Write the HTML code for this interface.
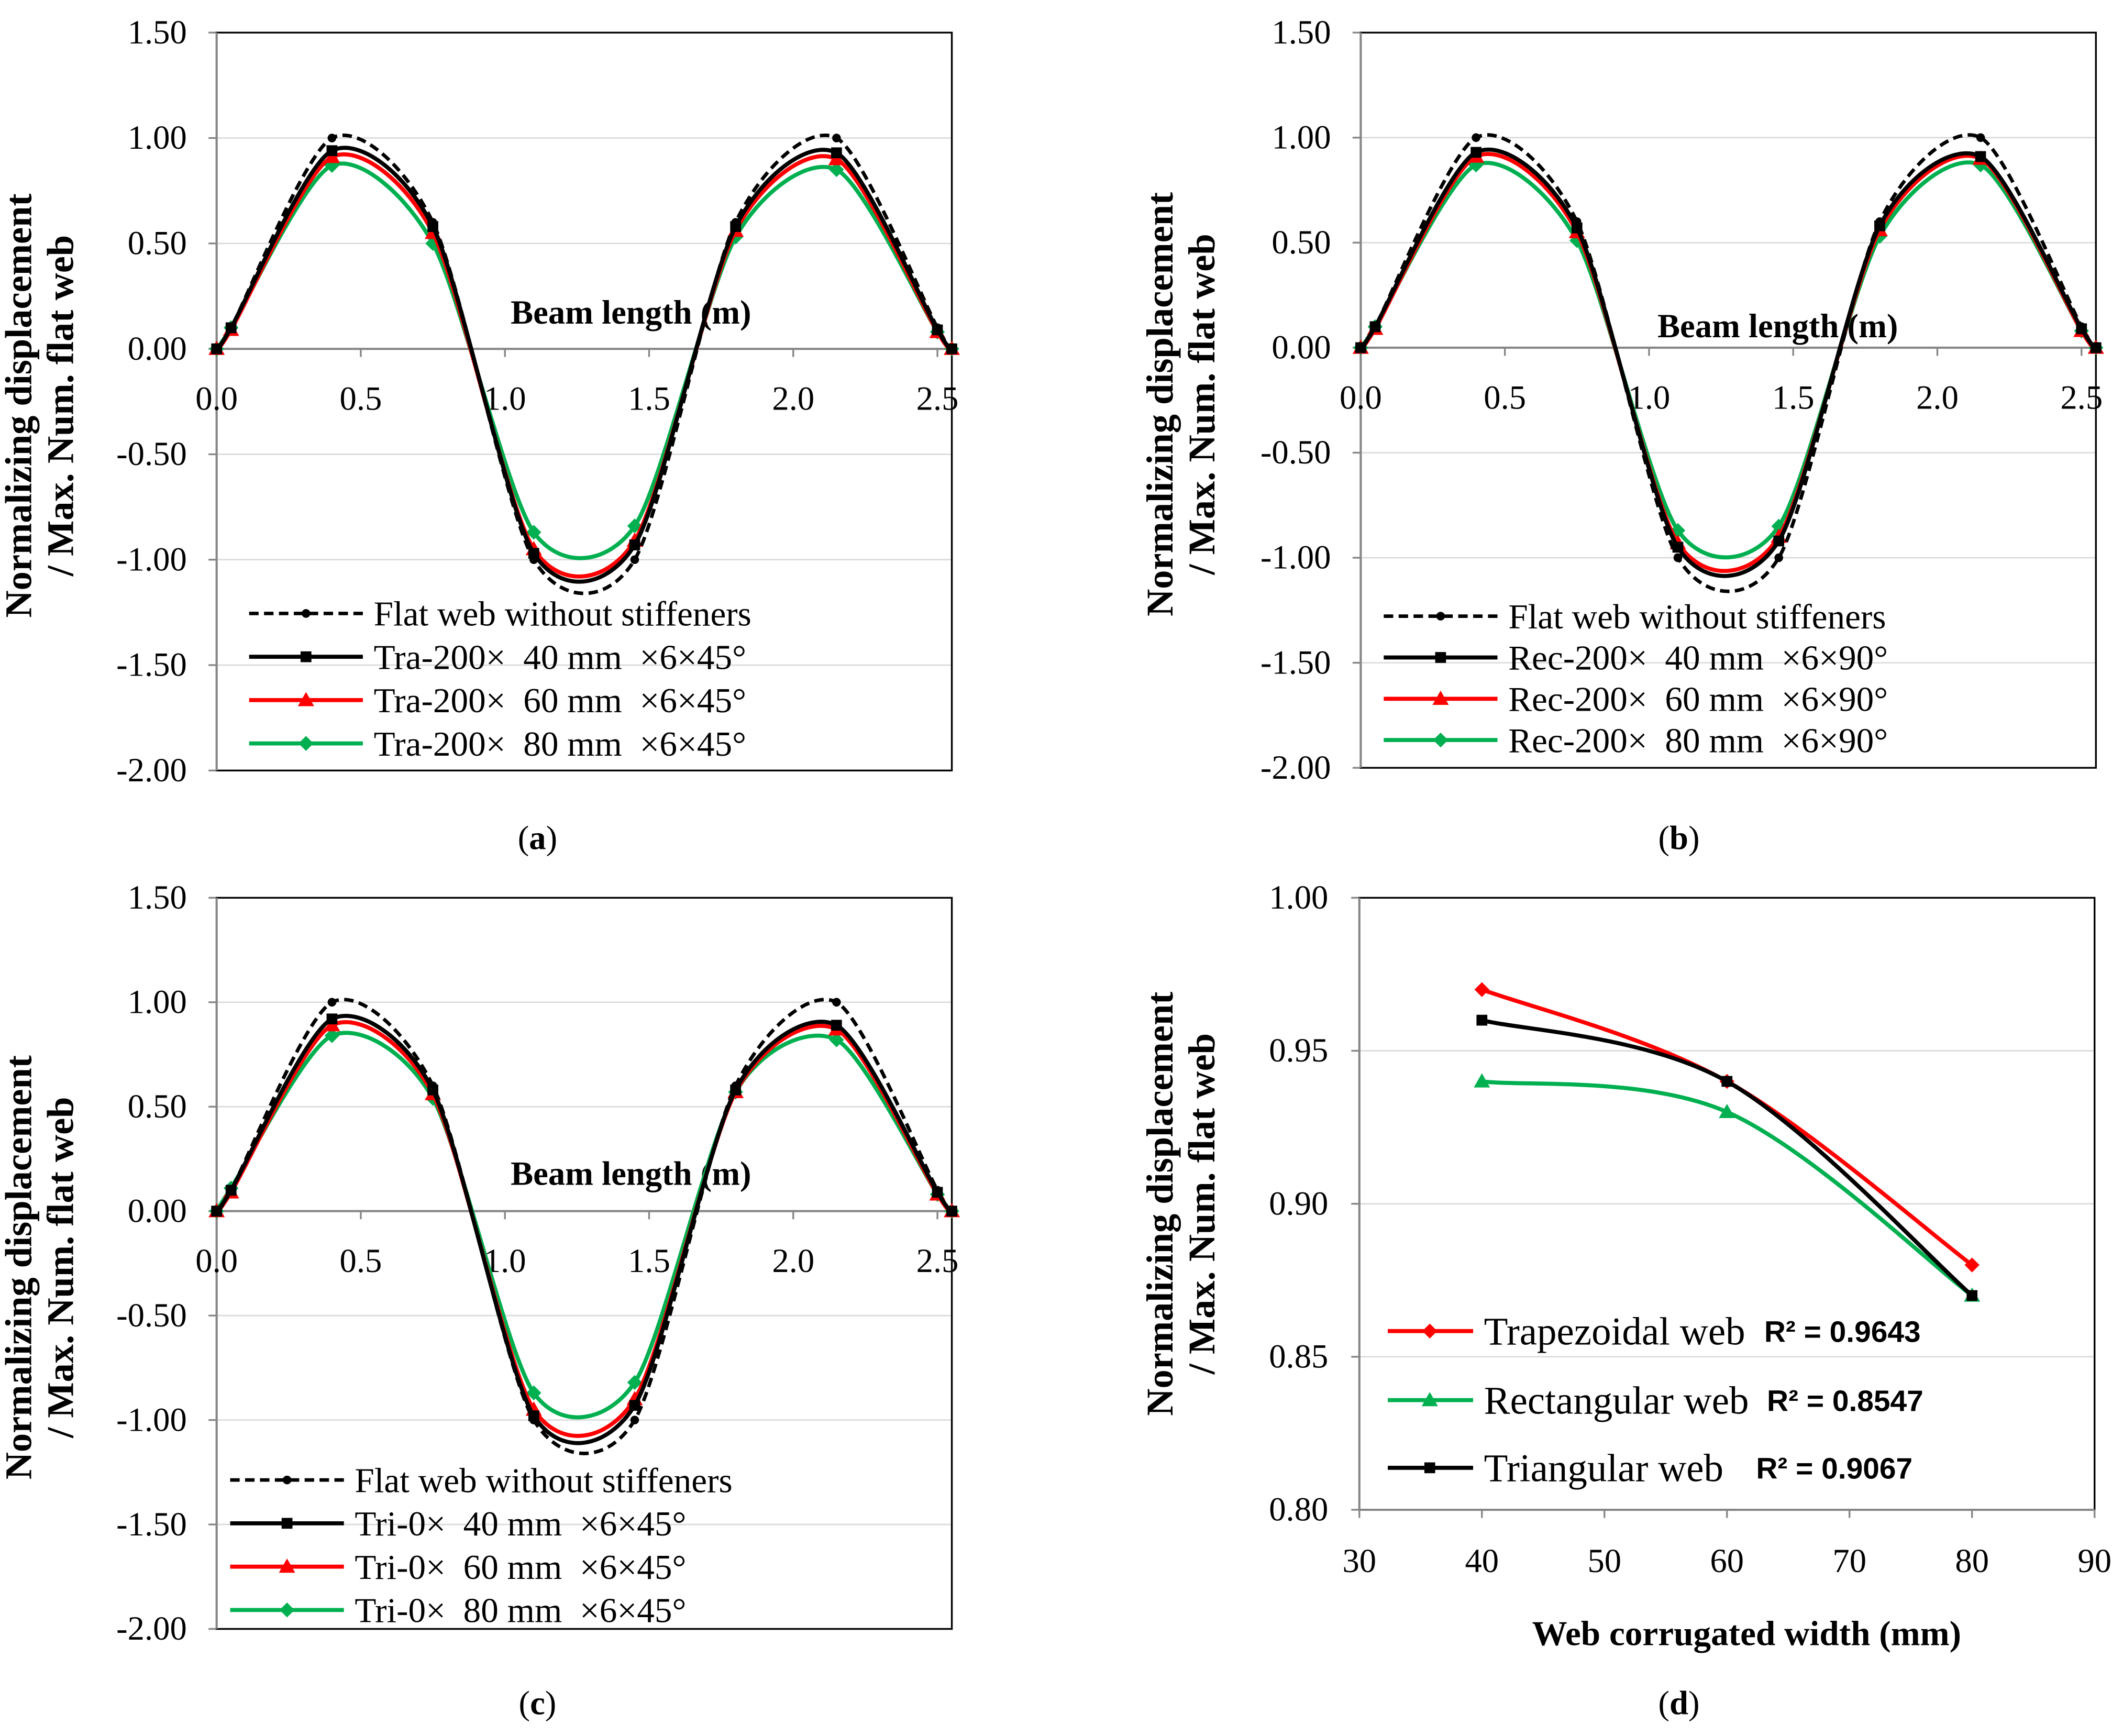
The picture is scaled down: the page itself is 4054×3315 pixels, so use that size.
<!DOCTYPE html>
<html><head><meta charset="utf-8"><style>
html,body{margin:0;padding:0;background:#fff}
svg{display:block}
text{font-family:"Liberation Serif",serif;white-space:pre}
</style></head><body>
<svg id="fig" width="4054" height="3315" viewBox="0 0 1568 1282" xmlns="http://www.w3.org/2000/svg" xml:space="preserve"></svg>
<script>
// ---- data ----
const beamX = [0, 0.05, 0.4, 0.75, 1.1, 1.45, 1.8, 2.15, 2.5, 2.55];
const flatA = [0, 0.1, 1.0, 0.6, -1.0, -1.0, 0.6, 1.0, 0.1, 0];
const a40 = [0, 0.1, 0.94, 0.58, -0.97, -0.93, 0.58, 0.93, 0.09, 0];
const a60 = [0, 0.09, 0.91, 0.55, -0.95, -0.91, 0.56, 0.90, 0.08, 0];
const a80 = [0, 0.1, 0.87, 0.5, -0.87, -0.84, 0.53, 0.85, 0.08, 0];
const b40 = [0, 0.1, 0.93, 0.57, -0.95, -0.92, 0.58, 0.91, 0.09, 0];
const b60 = [0, 0.09, 0.91, 0.55, -0.93, -0.90, 0.56, 0.90, 0.08, 0];
const b80 = [0, 0.1, 0.87, 0.51, -0.87, -0.85, 0.53, 0.87, 0.08, 0];
const c40 = [0, 0.1, 0.92, 0.58, -0.98, -0.93, 0.58, 0.89, 0.09, 0];
const c60 = [0, 0.09, 0.89, 0.56, -0.95, -0.90, 0.57, 0.87, 0.08, 0];
const c80 = [0, 0.11, 0.84, 0.54, -0.87, -0.82, 0.57, 0.82, 0.08, 0];
const yTicksBeam = [1.5, 1.0, 0.5, 0, -0.5, -1.0, -1.5, -2.0];
const xTicksBeam = [0, 0.5, 1.0, 1.5, 2.0, 2.5];
const widthX = [40, 60, 80];
const trapY = [0.97, 0.94, 0.88];
const rectY = [0.94, 0.93, 0.87];
const triY = [0.96, 0.94, 0.87];
const xTicksD = [30, 40, 50, 60, 70, 80, 90];
const yTicksD = [1.0, 0.95, 0.90, 0.85, 0.80];

const NS = "http://www.w3.org/2000/svg";
const svg = document.getElementById('fig');
function el(tag, attrs, parent, txt) {
  const e = document.createElementNS(NS, tag);
  for (const k in attrs) e.setAttribute(k, attrs[k]);
  if (txt !== undefined) e.textContent = txt;
  (parent || svg).appendChild(e);
  return e;
}
function smoothPath(pts, k) {
  let d = `M${pts[0][0]},${pts[0][1]}`;
  for (let i = 0; i < pts.length - 1; i++) {
    const p0 = pts[Math.max(0, i - 1)], p1 = pts[i], p2 = pts[i + 1], p3 = pts[Math.min(pts.length - 1, i + 2)];
    const c1 = [p1[0] + (p2[0] - p0[0]) / k, p1[1] + (p2[1] - p0[1]) / k];
    const c2 = [p2[0] - (p3[0] - p1[0]) / k, p2[1] - (p3[1] - p1[1]) / k];
    d += ` C${c1[0]},${c1[1]} ${c2[0]},${c2[1]} ${p2[0]},${p2[1]}`;
  }
  return d;
}
function marker(g, type, x, y, color) {
  let m;
  if (type === 'circle') m = el('circle', {cx: x, cy: y, r: 3.2, fill: color}, g);
  else if (type === 'square') m = el('rect', {x: x - 4, y: y - 4, width: 8, height: 8, fill: color}, g);
  else if (type === 'tri') m = el('polygon', {points: `${x},${y - 6} ${x - 6},${y + 4.5} ${x + 6},${y + 4.5}`, fill: color}, g);
  else m = el('polygon', {points: `${x},${y - 5.5} ${x + 5.5},${y} ${x},${y + 5.5} ${x - 5.5},${y}`, fill: color}, g);
  
  
}
function series(g, pts, color, dash, mtype, name, k) {
  const p = el('path', {d: smoothPath(pts, k), fill: 'none', stroke: color, 'stroke-width': dash ? 2.6 : 3, 'stroke-dasharray': dash ? '7,4' : 'none'}, g);
  
  
  pts.forEach(q => marker(g, mtype, q[0], q[1], color));
}
function yTitle(g, cx, cy) {
  const t1 = el('text', {x: 0, y: 0, transform: `translate(${cx - 14},${cy}) rotate(-90)`, 'text-anchor': 'middle', 'font-size': 28, 'font-weight': 'bold'}, g, 'Normalizing displacement');
  
  
  const t2 = el('text', {x: 0, y: 0, transform: `translate(${cx + 17},${cy}) rotate(-90)`, 'text-anchor': 'middle', 'font-size': 28, 'font-weight': 'bold'}, g, '/ Max. Num. flat web');
  
  
}

function beamPanel(cfg) {
  const g = el('g', {});
  
  
  const L = cfg.L, R = cfg.R, T = cfg.T, B = cfg.B;
  const sx = v => L + (v - 0) / 2.55 * (R - L);
  const sy = v => T + (1.5 - v) / 3.5 * (B - T);
  yTicksBeam.forEach(v => {
    if (v !== 1.5 && v !== -2.0 && v !== 0) el('line', {x1: L, x2: R, y1: sy(v), y2: sy(v), stroke: '#d9d9d9', 'stroke-width': 1}, g);
    el('line', {x1: L - 6, x2: L, y1: sy(v), y2: sy(v), stroke: '#868686', 'stroke-width': 1.3}, g);
    const t = el('text', {x: L - 22, y: sy(v) + 8, 'text-anchor': 'end', 'font-size': 25}, g, v.toFixed(2));
    
    
  });
  el('rect', {x: L, y: T, width: R - L, height: B - T, fill: 'none', stroke: '#000', 'stroke-width': 1.3}, g);
  el('line', {x1: L, x2: L, y1: T, y2: B, stroke: '#868686', 'stroke-width': 1.6}, g);
  el('line', {x1: L, x2: R, y1: sy(0), y2: sy(0), stroke: '#868686', 'stroke-width': 1.6}, g);
  xTicksBeam.forEach(v => {
    el('line', {x1: sx(v), x2: sx(v), y1: sy(0), y2: sy(0) + 6, stroke: '#868686', 'stroke-width': 1.3}, g);
    const t = el('text', {x: sx(v), y: sy(0) + 45, 'text-anchor': 'middle', 'font-size': 25}, g, v.toFixed(1));
    
    
  });
  const xt = el('text', {x: cfg.xtx, y: cfg.xty, 'text-anchor': 'middle', 'font-size': 25, 'font-weight': 'bold'}, g, 'Beam length (m)');
  
  
  yTitle(g, cfg.ytx, (T + B) / 2 + 3);
  const mk = arr => beamX.map((x, i) => [sx(x), sy(arr[i])]);
  series(g, mk(cfg.s80), '#00b050', false, 'diamond', 'series-80mm', 7.5);
  series(g, mk(cfg.s60), '#ff0000', false, 'tri', 'series-60mm', 7.5);
  series(g, mk(cfg.s40), '#000000', false, 'square', 'series-40mm', 7.5);
  series(g, mk(flatA), '#000000', true, 'circle', 'series-flat-web', 7.5);
  const lg = el('g', {}, g);
  
  
  const items = [['Flat web without stiffeners', '#000', true, 'circle'], [cfg.lbl + '  40 mm  ×6×' + cfg.ang, '#000', false, 'square'], [cfg.lbl + '  60 mm  ×6×' + cfg.ang, '#ff0000', false, 'tri'], [cfg.lbl + '  80 mm  ×6×' + cfg.ang, '#00b050', false, 'diamond']];
  items.forEach((it, i) => {
    const y = cfg.ly + i * cfg.ld;
    el('line', {x1: cfg.lx, x2: cfg.lx + 84, y1: y, y2: y, stroke: it[1], 'stroke-width': it[2] ? 2.6 : 3, 'stroke-dasharray': it[2] ? '7,4' : 'none'}, lg);
    marker(lg, it[3], cfg.lx + 42, y, it[1]);
    const t = el('text', {x: cfg.lx + 92, y: y + 9, 'font-size': 26}, lg, it[0]);
    
    
  });
  const cap = el('text', {x: cfg.capx, y: cfg.capy, 'text-anchor': 'middle', 'font-size': 25}, g);
  
  
  el('tspan', {}, cap, '(');
  el('tspan', {'font-weight': 'bold'}, cap, cfg.id);
  el('tspan', {}, cap, ')');
}

beamPanel({id: 'a', L: 160, R: 703, T: 24, B: 569, s40: a40, s60: a60, s80: a80, lbl: 'Tra-200×', ang: '45°', lx: 184, ly: 453, ld: 32, xtx: 466, xty: 239, ytx: 37, capx: 397, capy: 627});
beamPanel({id: 'b', L: 1005, R: 1548, T: 24, B: 567, s40: b40, s60: b60, s80: b80, lbl: 'Rec-200×', ang: '90°', lx: 1022, ly: 455, ld: 30.5, xtx: 1313, xty: 249, ytx: 880, capx: 1240, capy: 627});
beamPanel({id: 'c', L: 160, R: 703, T: 663, B: 1203, s40: c40, s60: c60, s80: c80, lbl: 'Tri-0×', ang: '45°', lx: 170, ly: 1093, ld: 32, xtx: 466, xty: 875, ytx: 37, capx: 397, capy: 1266});

// panel d
(function () {
  const g = el('g', {});
  
  
  const L = 1004, R = 1547, T = 663, B = 1115;
  const sx = v => L + (v - 30) / 60 * (R - L);
  const sy = v => T + (1.0 - v) / 0.2 * (B - T);
  yTicksD.forEach(v => {
    if (v !== 1.0 && v !== 0.8) el('line', {x1: L, x2: R, y1: sy(v), y2: sy(v), stroke: '#d9d9d9', 'stroke-width': 1}, g);
    el('line', {x1: L - 6, x2: L, y1: sy(v), y2: sy(v), stroke: '#868686', 'stroke-width': 1.3}, g);
    const t = el('text', {x: L - 23, y: sy(v) + 8, 'text-anchor': 'end', 'font-size': 25}, g, v.toFixed(2));
    
    
  });
  el('rect', {x: L, y: T, width: R - L, height: B - T, fill: 'none', stroke: '#000', 'stroke-width': 1.3}, g);
  el('line', {x1: L, x2: L, y1: T, y2: B, stroke: '#868686', 'stroke-width': 1.6}, g);
  el('line', {x1: L, x2: R, y1: B, y2: B, stroke: '#868686', 'stroke-width': 1.6}, g);
  xTicksD.forEach(v => {
    el('line', {x1: sx(v), x2: sx(v), y1: B, y2: B + 6, stroke: '#868686', 'stroke-width': 1.3}, g);
    const t = el('text', {x: sx(v), y: B + 46, 'text-anchor': 'middle', 'font-size': 25}, g, String(v));
    
    
  });
  const xt = el('text', {x: 1290, y: 1215, 'text-anchor': 'middle', 'font-size': 26, 'font-weight': 'bold'}, g, 'Web corrugated width (mm)');
  
  
  yTitle(g, 880, 889);
  const mk = arr => widthX.map((x, i) => [sx(x), sy(arr[i])]);
  series(g, mk(rectY), '#00b050', false, 'tri', 'series-rectangular', 6);
  series(g, mk(trapY), '#ff0000', false, 'diamond', 'series-trapezoidal', 6);
  series(g, mk(triY), '#000000', false, 'square', 'series-triangular', 6);
  const lg = el('g', {}, g);
  
  
  const items = [['Trapezoidal web', '#ff0000', 'diamond', 'R² = 0.9643', 1303, 983], ['Rectangular web', '#00b050', 'tri', 'R² = 0.8547', 1305, 1034], ['Triangular web', '#000', 'square', 'R² = 0.9067', 1297, 1084]];
  items.forEach(it => {
    const y = it[5];
    el('line', {x1: 1025, x2: 1088, y1: y, y2: y, stroke: it[1], 'stroke-width': 3}, lg);
    marker(lg, it[2], 1056, y, it[1]);
    const t = el('text', {x: 1096, y: y + 10, 'font-size': 29}, lg, it[0]);
    
    
    const r = el('text', {x: it[4], y: y + 8, 'font-size': 22, 'font-weight': 'bold', style: 'font-family:"Liberation Sans",sans-serif'}, lg, it[3]);
    
    
  });
  const cap = el('text', {x: 1240, y: 1266, 'text-anchor': 'middle', 'font-size': 25}, g);
  
  
  el('tspan', {}, cap, '(');
  el('tspan', {'font-weight': 'bold'}, cap, 'd');
  el('tspan', {}, cap, ')');
})();
</script>
</body></html>
